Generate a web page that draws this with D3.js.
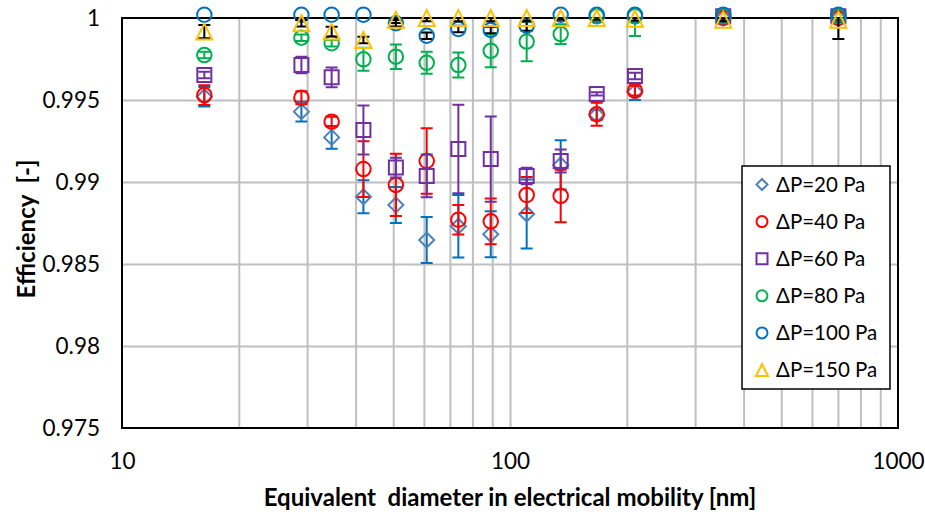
<!DOCTYPE html>
<html>
<head>
<meta charset="utf-8">
<script src="https://cdn.jsdelivr.net/npm/d3@7"></script>
<style>
  html, body { margin: 0; padding: 0; background: #fff; }
  svg { display: block; }
  text { font-family: Lato, "Open Sans", sans-serif; fill: #000; white-space: pre; }
</style>
</head>
<body>
<svg id="chart" width="925" height="517"></svg>
<script>
// ---------------- data ----------------
const diameters = [16.3, 29, 34.7, 41.9, 50.8, 61, 73.6, 89.2, 110.4, 135.1, 167.3, 209.9, 354.5, 702];

const seriesNames = ["ΔP=20 Pa", "ΔP=40 Pa", "ΔP=60 Pa", "ΔP=80 Pa", "ΔP=100 Pa", "ΔP=150 Pa"];

const dp20    = [0.9952, 0.99429, 0.99272, 0.9891, 0.9886, 0.98646, 0.9873, 0.98681, 0.98805, 0.99104, 0.99409, 0.9955, 1.0, 1.0];
const dp20Err = [0.0006, 0.0006, 0.0007, 0.001, 0.0011, 0.0014, 0.0019, 0.0014, 0.0021, 0.0015, 0.0003, 0.0005, 0.0001, 0.0001];

const dp40    = [0.9953, 0.99514, 0.99368, 0.99079, 0.98982, 0.99128, 0.9877, 0.9876, 0.98921, 0.98915, 0.99413, 0.99557, 1.0, 1.0];
const dp40Err = [0.0006, 0.0004, 0.0003, 0.0017, 0.0019, 0.002, 0.0009, 0.0014, 0.0011, 0.0016, 0.0007, 0.0003, 0.0001, 0.0001];

const dp60    = [0.99652, 0.99713, 0.99638, 0.99317, 0.99088, 0.99037, 0.99201, 0.9914, 0.99037, 0.99128, 0.99537, 0.99646, 1.0001, 1.0001];
const dp60Err = [0.0002, 0.0005, 0.0006, 0.0015, 0.0006, 0.0013, 0.0027, 0.0026, 0.0005, 0.0007, 0.0001, 0.0002, 0.0001, 0.0001];

const dp80    = [0.99774, 0.9988, 0.99846, 0.99748, 0.99764, 0.99727, 0.99713, 0.998, 0.99856, 0.99902, 1.0001, 1.0001, 1.0001, 1.0001];
const dp80Err = [0.0002, 0.0002, 0.0002, 0.0007, 0.00075, 0.00067, 0.00076, 0.001, 0.0012, 0.0006, 0.0001, 0.0012, 0.0001, 0.0001];

const dp100    = [1.0002, 1.0002, 1.0002, 1.0002, 0.99968, 0.99892, 0.99933, 0.99927, 0.99953, 1.0002, 1.0002, 1.0002, 1.0002, 1.0002];
const dp100Err = [0.0001, 0.0001, 0.0001, 0.0001, 0.0002, 0.0002, 0.0002, 0.0002, 0.0003, 0.0001, 0.0001, 0.0001, 0.0001, 0.0001];

const dp150    = [0.99917, 0.99968, 0.99917, 0.99866, 0.9999, 1.0, 1.0, 1.0, 1.0, 1.0, 1.0, 0.99995, 0.9999, 0.9999];
const dp150Err = [0.0004, 0.0002, 0.0003, 0.0002, 0.0002, 0.0002, 0.0002, 0.0002, 0.0002, 0.0001, 0.0001, 0.0001, 0.0001, 0.00118];

const yTicks = [0.975, 0.98, 0.985, 0.99, 0.995, 1];
const yTickLabels = ["0.975", "0.98", "0.985", "0.99", "0.995", "1"];
const xTicks = [10, 100, 1000];
const xTickLabels = ["10", "100", "1000"];
const xTitle = "Equivalent  diameter in electrical mobility [nm]";
const yTitle = "Efficiency  [-]";

// ---------------- chart ----------------
const svg = d3.select("#chart");
const L = 122, R = 898, T = 18, B = 428;

const x = d3.scaleLog().domain([10, 1000]).range([L, R]);
const y = d3.scaleLinear().domain([0.975, 1]).range([B, T]);

const series = [
  { name: seriesNames[0], vals: dp20,  err: dp20Err,  shape: "diamond",  color: "#4f81bd", errColor: "#0070c0" },
  { name: seriesNames[1], vals: dp40,  err: dp40Err,  shape: "circle",   color: "#ff0000", errColor: "#ff0000" },
  { name: seriesNames[2], vals: dp60,  err: dp60Err,  shape: "square",   color: "#7030a0", errColor: "#7030a0" },
  { name: seriesNames[3], vals: dp80,  err: dp80Err,  shape: "circle",   color: "#00b050", errColor: "#00b050" },
  { name: seriesNames[4], vals: dp100, err: dp100Err, shape: "circle",   color: "#0070c0", errColor: "#000000" },
  { name: seriesNames[5], vals: dp150, err: dp150Err, shape: "triangle", color: "#ffc000", errColor: "#000000" }
];

svg.append("defs").append("clipPath").attr("id", "plotclip")
  .append("rect").attr("x", L).attr("y", T).attr("width", R - L).attr("height", B - T);

// minor/major vertical gridlines
const gridX = [];
[10, 100].forEach(d => { for (let k = 1; k <= 9; k++) gridX.push(d * k); });
gridX.push(1000);
svg.append("g")
  .attr("transform", `translate(0,${B})`)
  .call(d3.axisBottom(x).tickValues(gridX.filter(v => v > 10 && v < 1000)).tickSize(-(B - T)).tickFormat(""))
  .call(g => g.select(".domain").remove())
  .call(g => g.selectAll("line").attr("stroke", "#bfbfbf").attr("stroke-width", 2));

// horizontal gridlines
svg.append("g")
  .attr("transform", `translate(${L},0)`)
  .call(d3.axisLeft(y).tickValues(yTicks.filter(v => v > 0.975 && v < 1)).tickSize(-(R - L)).tickFormat(""))
  .call(g => g.select(".domain").remove())
  .call(g => g.selectAll("line").attr("stroke", "#bfbfbf").attr("stroke-width", 2));

// plot border
svg.append("rect").attr("x", L).attr("y", T).attr("width", R - L).attr("height", B - T)
  .attr("fill", "none").attr("stroke", "#000").attr("stroke-width", 2);

// axes labels
const yAxis = svg.append("g")
  .attr("transform", `translate(${L},0)`)
  .call(d3.axisLeft(y).tickValues(yTicks).tickSize(0).tickPadding(22)
    .tickFormat((d, i) => yTickLabels[i]));
yAxis.select(".domain").remove();
yAxis.selectAll("text").attr("font-size", 22.5).attr("font-family", "Lato, sans-serif").attr("fill", "#000");

const xAxis = svg.append("g")
  .attr("transform", `translate(0,${B})`)
  .call(d3.axisBottom(x).tickValues(xTicks).tickSize(0).tickPadding(25)
    .tickFormat((d, i) => xTickLabels[i]));
xAxis.select(".domain").remove();
xAxis.selectAll("text").attr("font-size", 22.5).attr("font-family", "Lato, sans-serif").attr("fill", "#000");

svg.append("text").attr("x", 510).attr("y", 506).attr("text-anchor", "middle")
  .attr("font-size", 24).attr("font-weight", "bold").text(xTitle);

svg.append("text").attr("transform", "translate(35,229) rotate(-90)").attr("text-anchor", "middle")
  .attr("font-size", 24).attr("font-weight", "bold").text(yTitle);

// marker path generator
function markerPath(shape, s) {
  const h = s / 2;
  if (shape === "diamond") return `M0,${-h}L${h},0L0,${h}L${-h},0Z`;
  if (shape === "square") return `M${-h},${-h}H${h}V${h}H${-h}Z`;
  if (shape === "triangle") return `M0,${-h}L${h},${h}H${-h}Z`;
  const p = d3.path(); p.moveTo(h, 0); p.arc(0, 0, h, 0, 2 * Math.PI); p.closePath(); return p.toString();
}

const cap = 6;
series.forEach(s => {
  const g = svg.append("g");
  const eg = g.append("g").attr("clip-path", "url(#plotclip)")
    .attr("stroke", s.errColor).attr("stroke-width", 2).attr("fill", "none");
  diameters.forEach((d, i) => {
    const cx = x(d), y1 = y(s.vals[i] + s.err[i]), y2 = y(s.vals[i] - s.err[i]);
    eg.append("path").attr("d", `M${cx},${y1}V${y2}M${cx - cap},${y1}H${cx + cap}M${cx - cap},${y2}H${cx + cap}`);
  });
  const size = s.shape === "triangle" ? 16 : (s.shape === "square" ? 14 : (s.shape === "diamond" ? 15 : 14.5));
  g.selectAll("path.mk").data(diameters).join("path").attr("class", "mk")
    .attr("transform", (d, i) => `translate(${x(d)},${y(s.vals[i])})`)
    .attr("d", markerPath(s.shape, size))
    .attr("fill", "none").attr("stroke", s.color).attr("stroke-width", 2);
});

// legend
const lg = svg.append("g");
lg.append("rect").attr("x", 742).attr("y", 166).attr("width", 148).attr("height", 223)
  .attr("fill", "#fff").attr("stroke", "#000").attr("stroke-width", 1.5);
series.forEach((s, i) => {
  const ly = 184.5 + i * 37.1;
  lg.append("path").attr("transform", `translate(762,${ly})`)
    .attr("d", markerPath(s.shape, s.shape === "triangle" ? 12 : 11))
    .attr("fill", "none").attr("stroke", s.color).attr("stroke-width", 2);
  lg.append("text").attr("x", 776).attr("y", ly).attr("dy", "0.36em")
    .attr("font-size", 20.5).text(s.name);
});
</script>
</body>
</html>
